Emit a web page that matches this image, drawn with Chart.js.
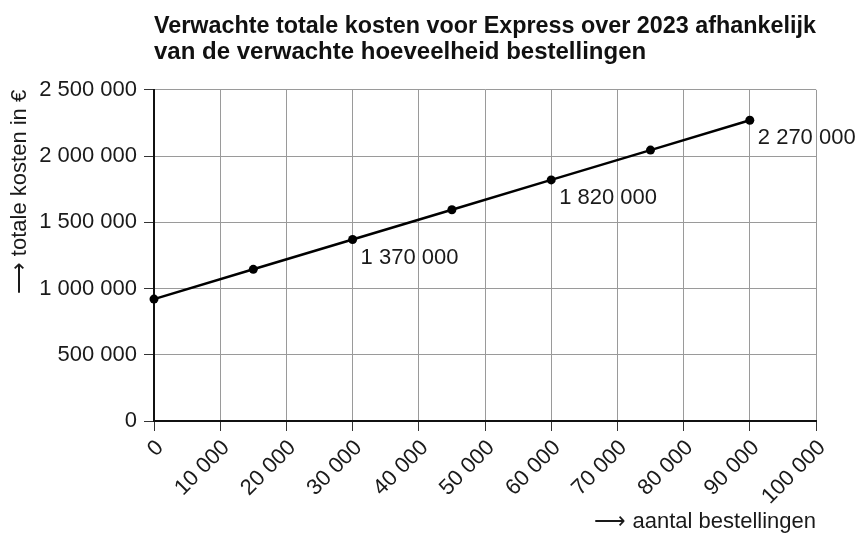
<!DOCTYPE html>
<html>
<head>
<meta charset="utf-8">
<script src="https://cdn.jsdelivr.net/npm/chart.js@4.4.0/dist/chart.umd.min.js"></script>
<style>
  body { margin: 0; background: #fff; }
</style>
</head>
<body>
<canvas id="kosten" width="859" height="536"></canvas>
<script>
var orders = [0, 15000, 30000, 45000, 60000, 75000, 90000];
var costs = [920000, 1145000, 1370000, 1595000, 1820000, 2045000, 2270000];
var labelledOrders = [30000, 60000, 90000];
var titleLines = ["Verwachte totale kosten voor Express over 2023 afhankelijk", "van de verwachte hoeveelheid bestellingen"];

function spaced(n) {
  return n.toString().replace(/\B(?=(\d{3})+(?!\d))/g, " ");
}

var fontFamily = '"Liberation Sans", Arial, sans-serif';
Chart.defaults.font.family = fontFamily;
Chart.defaults.color = "#1a1a1a";

// labels next to some of the points
var pointLabels = {
  id: "pointLabels",
  afterDatasetsDraw: function(chart) {
    var ctx = chart.ctx;
    var xs = chart.scales.x, ys = chart.scales.y;
    ctx.save();
    ctx.font = "22px " + fontFamily;
    ctx.fillStyle = "#1a1a1a";
    ctx.textAlign = "left";
    ctx.textBaseline = "alphabetic";
    for (var i = 0; i < orders.length; i++) {
      if (labelledOrders.indexOf(orders[i]) < 0) continue;
      var px = xs.getPixelForValue(orders[i]);
      var py = ys.getPixelForValue(costs[i]);
      ctx.fillText(spaced(costs[i]), px + 8, py + 24);
    }
    ctx.restore();
  }
};

var data = {
  datasets: [{
    data: orders.map(function(o, i) { return { x: o, y: costs[i] }; }),
    borderColor: "#000",
    backgroundColor: "#000",
    borderWidth: 2.5,
    pointRadius: 4.5,
    pointBackgroundColor: "#000",
    pointBorderWidth: 0,
    tension: 0,
    clip: false
  }]
};

var options = {
  responsive: false,
  animation: false,
  layout: { padding: { left: 0, right: 43, top: 0, bottom: 0 } },
  plugins: {
    legend: { display: false },
    tooltip: { enabled: false },
    title: {
      display: true,
      text: titleLines,
      align: "start",
      fullSize: false,
      color: "#111",
      font: { size: 24, weight: "bold", lineHeight: 1.1 },
      padding: { top: 13, bottom: 24 }
    }
  },
  scales: {
    x: {
      type: "linear",
      min: 0,
      max: 100000,
      afterFit: function(scale) { scale.height = 115; },
      ticks: {
        stepSize: 10000,
        minRotation: 45,
        maxRotation: 45,
        labelOffset: 6,
        padding: 4,
        font: { size: 22 },
        callback: function(v) { return spaced(v); }
      },
      grid: { color: "#9a9a9a", lineWidth: 1, tickLength: 10, tickColor: "#333" },
      border: { color: "#111", width: 2 },
      title: {
        display: true,
        text: "\u27F6 aantal bestellingen",
        align: "end",
        font: { size: 22 },
        padding: { top: 0, bottom: 1 }
      }
    },
    y: {
      min: 0,
      max: 2500000,
      afterFit: function(scale) { scale.width = 154; },
      ticks: {
        stepSize: 500000,
        padding: 7,
        font: { size: 22 },
        callback: function(v) { return spaced(v); }
      },
      grid: { color: "#9a9a9a", lineWidth: 1, tickLength: 10, tickColor: "#333" },
      border: { color: "#111", width: 2 },
      title: {
        display: true,
        text: "\u27F6 totale kosten in \u20AC",
        align: "end",
        font: { size: 22 },
        padding: { top: 7, bottom: 0 }
      }
    }
  }
};

var ctx = document.getElementById("kosten").getContext("2d");
new Chart(ctx, {
  type: "line",
  data: data,
  options: options,
  plugins: [pointLabels]
});
</script>
</body>
</html>
